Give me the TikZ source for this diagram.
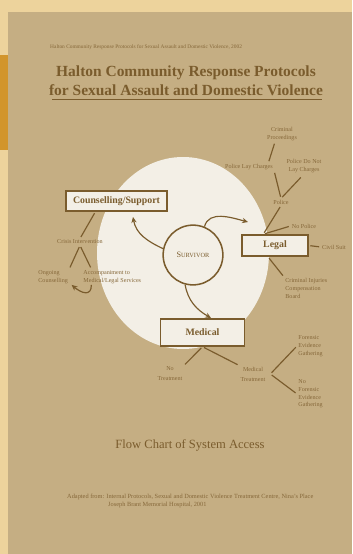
\documentclass[tikz,border=0pt]{standalone}
\usepackage{fontspec}
\setmainfont{Liberation Serif}
\usetikzlibrary{arrows.meta}

\definecolor{cover}{RGB}{237,211,156}
\definecolor{spine}{RGB}{210,149,44}
\definecolor{sheet}{RGB}{197,174,131}
\definecolor{paper}{RGB}{243,239,230}
\definecolor{ink}{RGB}{122,92,45}
\definecolor{pale}{RGB}{134,104,58}

\def\sheetarea{(8,12) rectangle (352,554)}
\def\centrearea{(183,253) ellipse [x radius=86, y radius=96]}
\newcommand\lblsize{\fontsize{5.2}{6.6}\selectfont}

\tikzset{
  area/.style={draw=ink, line width=1.3pt, fill=paper, text=ink, inner sep=0pt,
    font=\bfseries\fontsize{8.4}{10}\selectfont},
  lbl/.style={text=pale, font=\lblsize, inner sep=1pt, align=center},
  link/.style={draw=ink, line width=1pt, shorten <=1.5pt, shorten >=1.5pt},
  flow/.style={draw=ink, line width=1pt, -{Stealth[length=5pt,width=4.5pt]}},
}

\begin{document}
\begin{tikzpicture}[x=0.03cm, y=-0.03cm]
  \useasboundingbox (0,0) rectangle (352,554);
  \fill[cover] (0,0) rectangle (352,554);
  \fill[spine] (0,55) rectangle (8,150);
  \fill[sheet] \sheetarea;
  \fill[paper] \centrearea;

  \node[anchor=west, text=pale, inner sep=0pt, font=\fontsize{4.6}{5}\selectfont] (header) at (50,47)
    {Halton Community Response Protocols for Sexual Assault and Domestic Violence, 2002};
  \node[text=ink, align=center, font=\bfseries\fontsize{13.2}{16.2}\selectfont] (title) at (186,80.5)
    {Halton Community Response Protocols\\for Sexual Assault and Domestic Violence};
  \draw[ink, line width=1pt] (52,99.5) -- (322,99.5);

  \node[circle, draw=ink, line width=1.3pt, fill=paper, minimum size=51pt, inner sep=0pt, text=ink] (survivor) at (193,255)
    {{\fontsize{7}{8}\selectfont S}{\fontsize{5.4}{8}\selectfont URVIVOR}};
  \node[area, minimum width=86pt, minimum height=17pt] (support) at (116.5,201) {Counselling/Support};
  \node[area, minimum width=56pt, minimum height=18pt] (legal) at (275,245.5) {Legal};
  \node[area, minimum width=72pt, minimum height=23pt] (medical) at (202.5,332.5) {Medical};

  \coordinate (tosupport) at (133,217);
  \coordinate (tolegal) at (248,222);
  \coordinate (tomedical) at (211,318);
  \draw[flow] (survivor.168) to[out=155, in=-80] (tosupport);
  \draw[flow] (survivor.68) to[out=75, in=165] (tolegal);
  \draw[flow] (survivor.255) to[out=-80, in=150] (tomedical);

  \node[lbl] (crisis) at (80,242) {Crisis Intervention};
  \node[lbl, anchor=north west, align=left] (ongoing) at (37,269) {Ongoing\\Counselling};
  \node[lbl, anchor=north west, align=left] (escort) at (82,269) {Accompaniment to\\Medical/Legal Services};
  \draw[link] ([xshift=-18pt]support.south) -- (crisis.north);
  \draw[link] (crisis.south) -- (ongoing.north east);
  \draw[link] (crisis.south) -- ([xshift=8pt]escort.north west);
  \draw[flow] ([xshift=8pt]escort.south west) to[out=-90, in=-40, looseness=1.6] ([xshift=2pt]ongoing.south east);

  \coordinate (legaltop) at ([xshift=-10pt]legal.north);
  \node[lbl] (police) at (281,202) {Police};
  \node[lbl] (nopolice) at (304,226) {No Police};
  \node[lbl] (charges) at (249,167) {Police Lay Charges};
  \node[lbl] (nocharges) at (304,166) {Police Do Not\\Lay Charges};
  \node[lbl] (criminal) at (282,134) {Criminal\\Proceedings};
  \node[lbl] (civil) at (334,247) {Civil Suit};
  \node[lbl, anchor=north west, align=left] (cicb) at (284,277) {Criminal Injuries\\Compensation\\Board};
  \draw[link] (legaltop) -- (police.south);
  \draw[link] (legaltop) -- (nopolice.west);
  \draw[link] (police.north) -- (charges.south east);
  \draw[link, shorten >=4pt] (police.north) -- (nocharges.south);
  \draw[link] ([xshift=-5pt]charges.north east) -- ([xshift=-6pt]criminal.south);
  \draw[link] (legal.east) -- (civil.west);
  \draw[link] ([xshift=-6pt]legal.south) -- (cicb.north west);

  \node[lbl, font=\fontsize{5.2}{8.5}\selectfont] (notreat) at (170,374) {No\\Treatment};
  \node[lbl, font=\fontsize{5.2}{8.5}\selectfont] (treat) at (253,374) {Medical\\Treatment};
  \coordinate (treatside) at ([xshift=3pt]treat.east);
  \node[lbl, anchor=west, align=left] (forensic) at (297,346) {Forensic\\Evidence\\Gathering};
  \node[lbl, anchor=west, align=left] (noforensic) at (297,394) {No\\Forensic\\Evidence\\Gathering};
  \draw[link] (medical.south) -- (notreat.north east);
  \draw[link] (medical.south) -- (treat.north west);
  \draw[link] (treatside) -- (forensic.west);
  \draw[link] (treatside) -- (noforensic.west);

  \node[text=ink, font=\fontsize{10.7}{12}\selectfont] (caption) at (190,445) {Flow Chart of System Access};
  \node[anchor=west, text=pale, inner sep=0pt, font=\fontsize{5.4}{6}\selectfont] (source) at (67,497)
    {Adapted from: Internal Protocols, Sexual and Domestic Violence Treatment Centre, Nina's Place};
  \node[anchor=west, text=pale, inner sep=0pt, font=\fontsize{5.4}{6}\selectfont] (source2) at (108,505)
    {Joseph Brant Memorial Hospital, 2001};
\end{tikzpicture}
\end{document}
